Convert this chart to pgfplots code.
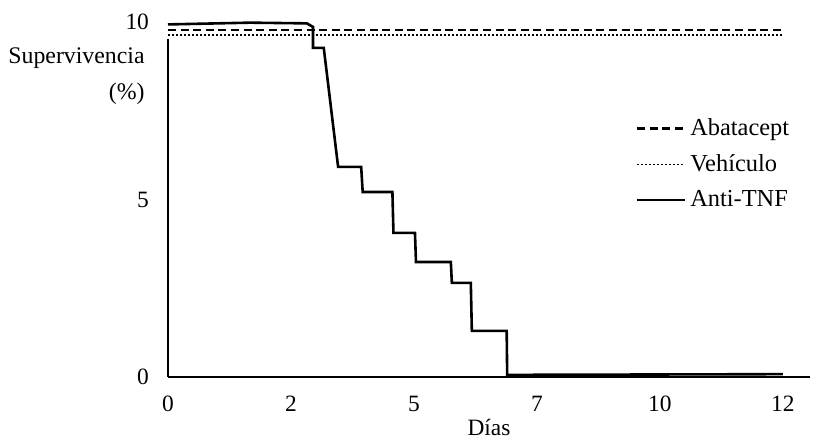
\documentclass[border=0pt]{standalone}
\usepackage{fontspec}
\setmainfont{Liberation Serif}
\usepackage{pgfplots}
\pgfplotsset{compat=1.18}
\begin{document}
\begin{tikzpicture}
\useasboundingbox (-84pt,-33pt) rectangle (328pt,188.5pt);
\begin{axis}[
  scale only axis, width=321pt, height=179.3pt,
  xmin=0, xmax=12.53, ymin=0, ymax=10.1,
  axis lines*=left,
  x axis line style={line width=1.2pt},
  y axis line style={draw=none},
  major tick length=0pt,
  clip=false,
  xtick={0,2.4,4.8,7.2,9.6,12}, xticklabels={0,2,5,7,10,12},
  ytick={0,5,10}, yticklabels={0,5,10},
  tick label style={font=\fontsize{11.7}{13}\selectfont},
  xticklabel style={yshift=-6pt},
  yticklabel style={xshift=-6pt},
  xlabel={Días},
  xlabel style={font=\fontsize{11.7}{13}\selectfont, at={(axis description cs:0.5,0)}, anchor=north, yshift=-17.5pt},
  ylabel={Supervivencia\\(\%)},
  ylabel style={rotate=-90, font=\fontsize{11.9}{18}\selectfont, align=right, inner sep=0pt,
    at={(axis description cs:0,0)}, anchor=north east, xshift=-11.5pt, yshift=165pt},
  legend style={draw=none, fill=none, inner sep=0pt, font=\fontsize{12.2}{13}\selectfont,
    at={(axis cs:9.12,7.4)}, anchor=north west, row sep=4pt},
  legend cell align=left,
  legend image code/.code={\draw[#1] (0pt,0pt) -- (24pt,0pt);},
]
\addplot[black, line width=1.3pt, dash pattern=on 4pt off 2.3pt] coordinates {(0,9.77)(12.0,9.77)};
\addlegendentry{Abatacept}
\addplot[black, line width=0.85pt, dash pattern=on 0.8pt off 1.2pt] coordinates {(0,9.63)(12.0,9.63)};
\addlegendentry{Vehículo}
\addplot[black, line width=1.3pt] coordinates {
  (0,9.93)(1.6,9.98)(2.71,9.96)(2.83,9.86)(2.83,9.27)(3.04,9.27)(3.32,5.92)
  (3.77,5.92)(3.80,5.21)(4.38,5.21)(4.40,4.06)(4.82,4.06)(4.84,3.24)
  (5.52,3.24)(5.54,2.65)(5.91,2.65)(5.93,1.30)(6.61,1.30)(6.62,0.06)(12.0,0.08)};
\addlegendentry{Anti-TNF}
\addplot[black, line width=1.2pt, forget plot] coordinates {(0,0)(0,9.51)};
\end{axis}
\end{tikzpicture}
\end{document}
